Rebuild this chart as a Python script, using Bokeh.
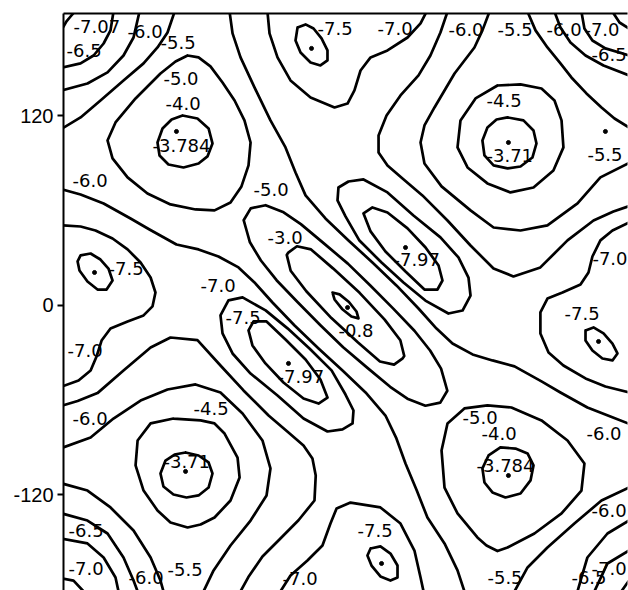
from bokeh.plotting import figure
from bokeh.models import Range1d, FixedTicker
from bokeh.embed import file_html
from bokeh.resources import INLINE
from bokeh.core.properties import value

# ---------------- data: axis ----------------
y_ticks = [-120, 0, 120]
y_tick_labels = ["-120", "0", "120"]

# ---------------- data: contour traces (x, y in degrees) ----------------
# corner top-left
tl_m70 = [(-181, 174.8), (-178.1, 179.9), (-175.5, 183.0), (-172.9, 186)]
tl_m65 = [(-181, 150.7), (-169.1, 153.3), (-160.8, 158.3), (-154.4, 165.9), (-150.0, 174.2), (-148.1, 186)]
tl_m60 = [(-181, 136.2), (-164.7, 140.6), (-151.9, 147.6), (-141.7, 158.3), (-135.3, 169.7), (-131.5, 186)]
tl_m55 = [(-181, 112.0), (-169.1, 119.1), (-156.4, 129.8), (-141.7, 142.5), (-128.9, 153.3), (-120.0, 163.4),
          (-113.6, 172.9), (-109.1, 186)]
# corner top-right
tr_m55 = [(116.2, 186), (121.3, 174.2), (128.9, 163.4), (137.2, 153.3), (144.2, 144.4), (153.8, 134.3),
          (163.4, 125.4), (171.7, 118.4), (181, 112.7)]
tr_m60 = [(133.4, 186), (137.2, 176.1), (143.6, 166.6), (153.2, 158.3), (164.7, 152.0), (181, 145.7)]
tr_m65 = [(150.6, 186), (152.5, 175.4), (157.6, 167.8), (165.9, 162.8), (181, 158.3)]
tr_m70 = [(170.4, 186), (174.9, 179.2), (181, 175.4)]
# corner bottom-left
bl_m55 = [(-181, -112.7), (-164.7, -117.2), (-150.0, -127.9), (-135.3, -142.5), (-124.4, -159.6),
          (-118.1, -174.2), (-116.2, -181)]
bl_m60 = [(-181, -131.7), (-164.7, -136.2), (-151.9, -144.4), (-141.7, -159.6), (-135.3, -174.2), (-132.7, -181)]
bl_m65 = [(-181, -147.6), (-164.7, -150.7), (-154.4, -159.6), (-146.8, -172.3), (-144.9, -181)]
bl_m70 = [(-181, -172.9), (-173.6, -174.2), (-167.2, -181)]
# corner bottom-right
br_m55 = [(181, -115.3), (163.4, -123.5), (146.1, -138.1), (128.9, -153.3), (116.2, -165.9), (107.9, -181)]
br_m60 = [(181, -136.2), (167.2, -144.4), (154.4, -159.6), (150.6, -172.3), (148.1, -181)]
br_m65 = [(181, -155.2), (167.2, -163.4), (158.9, -181)]
br_m70 = [(181, -174.2), (176.1, -181)]

# maximum -3.784 (upper left)
ul_m50 = [(-100.8, 158.3), (-93.8, 157.1), (-86.2, 151.4), (-78.5, 141.2), (-70.8, 129.8), (-64.5, 117.2),
          (-60.6, 103.2), (-61.9, 88.7), (-66.4, 75.4), (-73.4, 65.2), (-83.6, 60.2), (-95.7, 60.8),
          (-111.7, 64.0), (-126.4, 70.9), (-139.1, 81.1), (-148.7, 93.1), (-151.9, 104.5), (-146.8, 115.9),
          (-134.0, 131.1), (-118.1, 146.9), (-108.5, 154.5), (-100.8, 158.3)]
ul_m40 = [(-104.0, 120.3), (-94.5, 118.4), (-87.4, 112.1), (-84.9, 102.6), (-88.1, 94.4), (-93.8, 89.9),
          (-103.4, 87.4), (-113.0, 89.3), (-118.7, 95.0), (-120.0, 103.2), (-116.8, 112.1), (-111.0, 117.8),
          (-104.0, 120.3)]
# maximum -3.784 (lower right)
lr_m50 = [(75.9, -65.2), (90.6, -63.3), (105.9, -64.6), (125.1, -72.8), (141.7, -85.5), (152.5, -100.1),
          (150.6, -117.2), (137.9, -131.7), (120.6, -144.4), (103.4, -153.3), (97.0, -155.5), (90.0, -152.0),
          (84.2, -146.9), (71.5, -131.7), (63.2, -115.3), (61.3, -91.8), (65.1, -74.7), (75.9, -65.2)]
lr_m40 = [(98.9, -89.9), (108.5, -90.6), (116.2, -93.7), (120.0, -101.3), (118.1, -110.8), (111.7, -119.1),
          (102.1, -121.6), (93.8, -118.4), (88.7, -112.1), (87.4, -103.2), (91.3, -95.0), (98.9, -89.9)]
# maximum -3.71 (upper right)
ur_m50 = [(91.9, 186), (87.4, 174.2), (82.3, 163.4), (69.6, 146.9), (56.8, 125.4), (50.4, 114.0), (47.9, 103.2),
          (50.4, 89.9), (61.3, 75.4), (79.8, 60.2), (94.5, 49.4), (111.7, 47.5), (128.9, 50.7), (148.1, 64.6),
          (162.7, 81.1), (181, 90.2)]
ur_m45 = [(97.0, 139.3), (111.7, 140.0), (125.1, 137.4), (133.4, 129.8), (137.9, 117.2), (139.1, 100.1),
          (132.7, 85.5), (120.0, 74.7), (105.3, 71.6), (90.6, 77.3), (77.9, 87.4), (71.5, 100.1), (73.4, 117.2),
          (83.0, 131.1), (97.0, 139.3)]
ur_m40 = [(103.4, 119.1), (113.6, 117.2), (120.0, 110.8), (121.9, 102.6), (119.3, 93.7), (111.7, 88.0),
          (103.4, 86.8), (94.5, 88.7), (88.7, 95.0), (87.4, 104.5), (90.6, 112.7), (96.4, 117.8), (103.4, 119.1)]
# maximum -3.71 (lower left)
ll_m50 = [(-181, -90.2), (-162.7, -83.6), (-148.1, -71.6), (-130.8, -60.2), (-113.6, -53.2), (-95.7, -50.0),
          (-79.8, -55.1), (-65.7, -68.4), (-53.0, -85.5), (-47.9, -103.2), (-50.4, -120.3), (-60.6, -136.2),
          (-73.4, -152.0), (-84.2, -167.8), (-90.6, -181)]
ll_m45 = [(-109.8, -71.6), (-92.5, -72.8), (-83.6, -74.7), (-77.2, -81.1), (-68.9, -96.3), (-67.6, -108.9),
          (-73.4, -123.5), (-83.6, -134.3), (-92.5, -138.7), (-100.8, -140.6), (-111.7, -137.4), (-120.0, -129.8),
          (-128.9, -117.2), (-134.0, -101.3), (-132.7, -85.5), (-124.4, -74.7), (-109.8, -71.6)]
ll_m40 = [(-102.1, -93.1), (-93.8, -95.0), (-87.4, -99.4), (-84.9, -106.4), (-87.4, -115.3), (-93.8, -120.3),
          (-101.5, -121.6), (-109.8, -119.7), (-116.2, -114.6), (-118.1, -106.4), (-114.9, -98.2),
          (-109.1, -94.4), (-102.1, -93.1)]

# long -5.5 lines
up_m55 = [(65.1, 186), (60.6, 172.9), (54.2, 158.3), (46.6, 145.7), (35.1, 133.0), (26.2, 120.3), (21.1, 107.7),
          (21.1, 96.9), (26.8, 88.7), (36.4, 80.4), (49.1, 69.7), (65.1, 53.8), (79.8, 38.0), (94.5, 23.4),
          (107.2, 18.4), (124.4, 24.1), (141.7, 41.2), (158.3, 53.8), (171.0, 59.5), (181, 62.9)]
dn_m55 = [(-181, -63.5), (-171.0, -60.5), (-158.3, -55.5), (-141.7, -41.2), (-124.4, -26.6), (-111.7, -20.3),
          (-94.5, -22.0), (-79.8, -38.0), (-65.1, -53.8), (-49.1, -69.7), (-36.4, -80.4), (-26.8, -88.7),
          (-21.1, -96.9), (-19.0, -107.7), (-19.8, -123.5), (-30.0, -136.0), (-42.0, -148.0), (-53.0, -159.0),
          (-62.0, -172.0), (-67.0, -181)]

# long -6.0 lines
up_m60 = [(-74.0, 186), (-72.1, 172.3), (-67.0, 157.1), (-58.1, 138.1), (-47.9, 117.2), (-38.3, 100.1),
          (-31.9, 84.2), (-25.5, 69.7), (-12.8, 55.1), (1.9, 41.2), (17.2, 27.2), (32.5, 12.7), (46.6, -1.9),
          (58.1, -14.6), (68.3, -24.1), (81.1, -31.0), (93.8, -34.8), (107.9, -38.6), (125.1, -48.1),
          (137.2, -55.1), (154.4, -64.6), (169.1, -70.3), (181, -74.9)]
dn_m60 = [(-181, 73.5), (-169.1, 70.3), (-154.4, 64.6), (-137.2, 55.1), (-125.1, 48.1), (-107.9, 38.6),
          (-93.8, 35.5), (-81.1, 31.0), (-68.3, 24.1), (-58.1, 14.6), (-46.6, 1.9), (-32.5, -12.7), (-17.2, -27.2),
          (-1.9, -41.2), (12.8, -55.1), (25.5, -69.7), (32.5, -84.2), (38.3, -100.1), (45.5, -117.2),
          (52.3, -134.3), (63.2, -150.7), (71.5, -167.8), (75.9, -181)]

# minima near (0, +-180)
top_m70 = [(-49.8, 186), (-48.5, 172.3), (-43.4, 157.1), (-35.1, 142.5), (-22.3, 131.7), (-7.0, 125.4),
           (1.3, 127.9), (5.7, 136.2), (9.6, 148.8), (16.0, 157.1), (26.8, 161.5), (39.6, 169.7), (47.9, 178.6),
           (51.7, 186)]
top_m75 = [(-30.6, 176.1), (-25.5, 178.0), (-20.4, 175.4), (-15.3, 169.1), (-11.5, 161.5), (-11.5, 155.2),
           (-16.0, 152.0), (-22.3, 153.9), (-28.7, 160.2), (-31.9, 167.8), (-30.6, 176.1)]
bot_m70 = [(-41.5, -181), (-35.1, -171.0), (-24.3, -161.5), (-14.7, -152.0), (-9.6, -138.1), (-5.7, -128.6),
           (3.2, -124.8), (22.3, -127.9), (35.1, -138.1), (44.0, -155.2), (47.9, -172.3), (49.8, -181)]
bot_m75 = [(16.0, -153.9), (22.3, -152.6), (28.7, -157.1), (33.2, -164.7), (33.2, -172.3), (28.7, -174.2),
           (22.3, -171.6), (16.6, -164.7), (14.0, -158.3), (16.0, -153.9)]
# minima near (+-180, 0)
lft_m70 = [(-181, 50.7), (-169.1, 50.0), (-159.6, 47.5), (-148.7, 42.4), (-139.1, 35.5), (-130.8, 27.2),
           (-124.4, 17.7), (-121.3, 8.2), (-123.2, -0.6), (-128.9, -6.3), (-139.1, -10.1), (-150.0, -14.6),
           (-155.7, -22.2), (-158.9, -32.3), (-162.7, -41.2), (-170.4, -47.5), (-181, -51.3)]
lft_m75 = [(-169.1, 31.7), (-162.7, 32.9), (-156.4, 29.1), (-151.3, 23.4), (-148.7, 15.8), (-152.5, 10.1),
           (-158.3, 10.1), (-164.7, 15.2), (-169.8, 22.2), (-171.0, 27.9), (-169.1, 31.7)]
rgt_m70 = [(181, 52.6), (170.4, 47.5), (162.7, 41.2), (157.6, 31.0), (155.1, 20.9), (150.0, 13.3), (138.5, 8.2),
           (128.9, 4.4), (124.4, -4.4), (124.4, -17.7), (129.6, -29.8), (139.1, -38.0), (153.2, -46.2),
           (165.9, -51.3), (181, -55.1)]
rgt_m75 = [(153.2, -15.8), (158.3, -13.9), (164.7, -17.7), (170.4, -24.1), (173.6, -30.4), (170.4, -34.8),
           (164.0, -33.6), (157.6, -28.5), (153.2, -22.2), (153.2, -15.8)]

# central ridge (maximum -0.8) and the two -7.97 minima
c_m10 = [(-8.3, 8.2), (-3.8, 7.0), (2.2, 2.2), (7.0, -3.8), (8.3, -8.2), (3.8, -7.0), (-2.2, -2.2), (-7.0, 3.8),
         (-8.3, 8.2)]
c_m30 = [(-36.5, 33.5), (-31.0, 37.5), (-22.0, 35.5), (-8.0, 23.5), (9.0, 8.0), (25.0, -9.0), (35.0, -22.0),
         (37.5, -32.0), (36.5, -33.5), (31.0, -37.5), (22.0, -35.5), (8.0, -23.5), (-9.0, -8.0), (-25.0, 9.0),
         (-35.0, 22.0), (-37.5, 32.0), (-36.5, 33.5)]
c_m50 = [(-63.0, 47.0), (-65.0, 54.0), (-60.5, 61.5), (-51.0, 63.5), (-39.5, 59.0), (-28.5, 51.5), (-14.0, 39.5),
         (1.5, 26.5), (16.0, 12.5), (30.5, -2.0), (44.0, -16.0), (54.0, -28.5), (61.0, -40.0), (63.0, -47.0),
         (65.0, -54.0), (60.5, -61.5), (51.0, -63.5), (39.5, -59.0), (28.5, -51.5), (14.0, -39.5), (-1.5, -26.5),
         (-16.0, -12.5), (-30.5, 2.0), (-44.0, 16.0), (-54.0, 28.5), (-61.0, 40.0), (-63.0, 47.0)]
ne_m70 = [(-4.5, 74.7), (1.9, 78.5), (11.5, 79.8), (26.8, 71.6), (43.4, 57.0), (60.6, 43.1), (72.1, 30.4),
          (78.5, 17.7), (79.8, 6.3), (74.7, -3.2), (65.7, -5.1), (51.0, 3.1), (37.0, 14.5), (23.0, 27.2),
          (8.9, 41.1), (0.0, 56.4), (-5.1, 66.5), (-4.5, 74.7)]
ne_m75 = [(11.5, 58.3), (17.2, 62.1), (26.8, 58.9), (39.6, 48.8), (51.1, 36.7), (59.4, 25.3), (61.9, 15.8),
          (58.7, 10.1), (50.4, 10.1), (38.3, 21.5), (25.5, 34.2), (16.0, 46.9), (11.5, 58.3)]
sw_m70 = [(4.5, -74.7), (-1.9, -78.5), (-11.5, -79.8), (-26.8, -71.6), (-43.4, -57.0), (-60.6, -43.1),
          (-72.1, -30.4), (-78.5, -17.7), (-79.8, -6.3), (-74.7, 3.2), (-65.7, 5.1), (-51.0, -3.1), (-37.0, -14.5),
          (-23.0, -27.2), (-8.9, -41.1), (0.0, -56.4), (5.1, -66.5), (4.5, -74.7)]
sw_m75 = [(-11.5, -58.3), (-17.2, -62.1), (-26.8, -58.9), (-39.6, -48.8), (-51.1, -36.7), (-59.4, -25.3),
          (-61.9, -15.8), (-58.7, -10.1), (-50.4, -10.1), (-38.3, -21.5), (-25.5, -34.2), (-16.0, -46.9),
          (-11.5, -58.3)]

contours = [tl_m70, tl_m65, tl_m60, tl_m55, tr_m55, tr_m60, tr_m65, tr_m70,
            bl_m55, bl_m60, bl_m65, bl_m70, br_m55, br_m60, br_m65, br_m70,
            ul_m50, ul_m40, lr_m50, lr_m40, ur_m50, ur_m45, ur_m40, ll_m50, ll_m45, ll_m40,
            up_m55, dn_m55, up_m60, dn_m60,
            top_m70, top_m75, bot_m70, bot_m75, lft_m70, lft_m75, rgt_m70, rgt_m75,
            c_m10, c_m30, c_m50, ne_m70, ne_m75, sw_m70, sw_m75]

# ---------------- data: contour value labels ----------------
label_text = ["-7.07", "-6.5", "-6.0", "-5.5", "-5.0", "-4.0", "-3.784", "-6.0", "-5.0",
              "-7.5", "-7.0", "-6.0", "-5.5", "-6.0", "-7.0", "-6.5", "-4.5", "-3.71", "-5.5",
              "-3.0", "-7.97", "-0.8", "-7.0", "-7.5", "-7.97", "-4.5", "-7.5", "-7.0", "-6.0",
              "-3.71", "-6.5", "-7.0", "-6.0", "-5.5", "-7.5", "-7.0", "-7.0", "-7.5", "-5.0",
              "-4.0", "-3.784", "-6.0", "-6.0", "-7.0", "-6.5", "-5.5"]
label_x = [-173.6, -178.1, -139.1, -118.1, -116.2, -114.9, -123.2, -174.2, -58.7,
           -17.9, 20.4, 65.7, 97.0, 128.3, 152.5, 157.0, 90.0, 90.0, 154.4,
           -49.8, 30.6, -4.5, -92.5, -76.6, -43.4, -97.0, -151.3, -177.4, -174.2,
           -116.2, -176.8, -176.8, -138.5, -113.6, 7.7, -40.2, 157.6, 139.8, 74.7,
           86.8, 83.6, 153.8, 157.0, 157.0, 144.2, 90.6]
label_y = [176.7, 161.5, 173.5, 166.6, 143.8, 127.9, 101.3, 79.2, 73.5,
           175.4, 175.4, 174.8, 174.8, 174.8, 174.8, 159.0, 129.8, 95.0, 95.6,
           43.1, 29.1, -15.8, 12.7, -7.6, -45.0, -65.2, 23.4, -28.5, -71.6,
           -98.8, -142.5, -166.6, -172.3, -167.2, -142.5, -173.0, 29.8, -5.1, -70.9,
           -81.1, -101.3, -81.1, -129.8, -166.6, -172.3, -172.3]

# ---------------- data: extremum marks ----------------
dot_x = [-107.9, -21.7, 104.0, 38.3, 1.3, -36.4, -160.2, 161.5, -102.1, 104.0, 23.0, 165.9]
dot_y = [110.2, 162.8, 103.2, 36.7, -1.3, -36.7, 20.9, -22.8, -105.1, -107.7, -163.4, 110.2]

# ---------------- figure ----------------
p = figure(width=628, height=590, x_range=Range1d(-180, 180), y_range=Range1d(-180.5, 184.9),
           output_backend="svg", toolbar_location=None,
           x_axis_location="above", y_axis_location="left",
           min_border_left=63, min_border_right=1, min_border_top=13, min_border_bottom=0)
p.outline_line_color = None
p.grid.visible = False
p.background_fill_color = "white"
p.border_fill_color = "white"

xa = p.xaxis[0]
xa.ticker = FixedTicker(ticks=[])
xa.axis_line_width = 2
xa.axis_line_color = "black"
xa.major_tick_line_color = None
xa.minor_tick_line_color = None
xa.major_label_standoff = 0

ya = p.yaxis[0]
ya.ticker = FixedTicker(ticks=y_ticks)
ya.major_label_overrides = {t: s for t, s in zip(y_ticks, y_tick_labels)}
ya.axis_line_width = 2
ya.axis_line_color = "black"
ya.major_tick_line_width = 2
ya.major_tick_line_color = "black"
ya.major_tick_out = 6
ya.major_tick_in = 0
ya.minor_tick_line_color = None
ya.major_label_standoff = 4
ya.major_label_text_font = "Liberation Sans"
ya.major_label_text_font_size = "20px"
ya.major_label_text_color = "black"

xs = [[pt[0] for pt in c] for c in contours]
ys = [[pt[1] for pt in c] for c in contours]
p.multi_line(xs, ys, line_color="black", line_width=2.7, line_join="round", line_cap="round")

p.text(x=label_x, y=label_y, text=label_text, text_font=value("DejaVu Sans"),
       text_font_size="18px", text_align="left", text_baseline="middle", text_color="black")

p.scatter(x=dot_x, y=dot_y, size=4, color="black")

open("out.html", "w").write(file_html(p, INLINE))
